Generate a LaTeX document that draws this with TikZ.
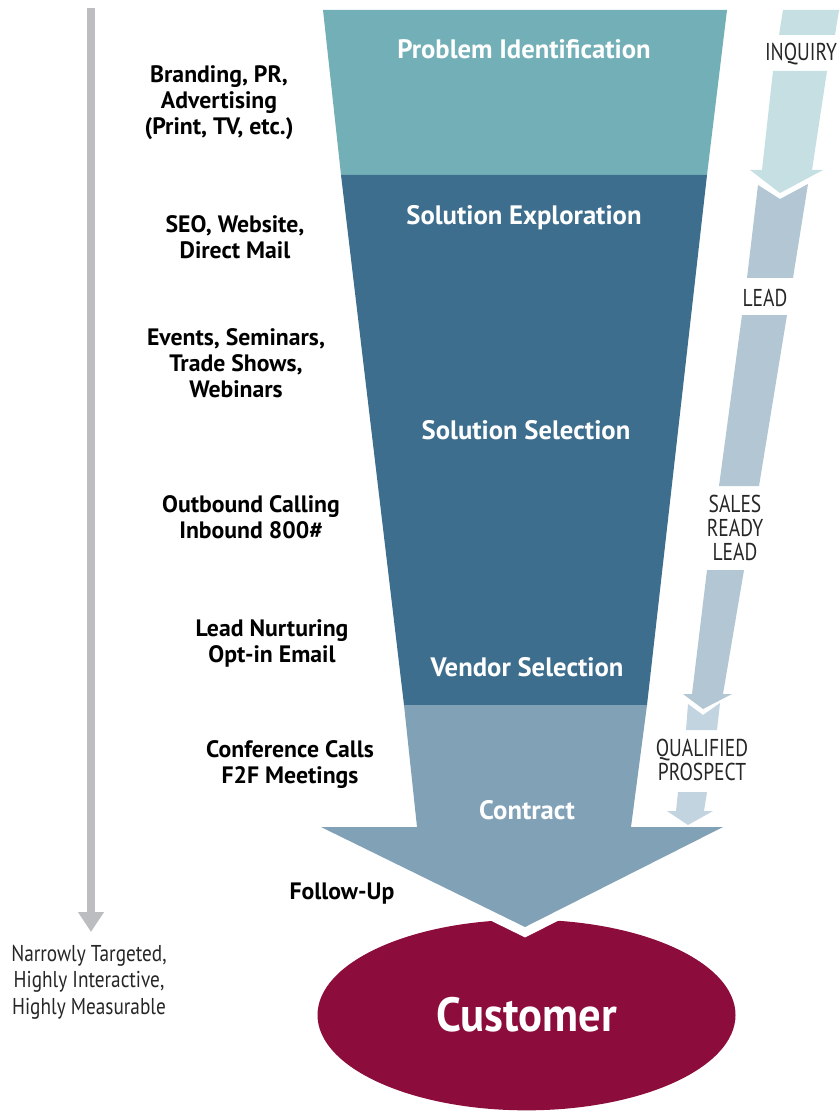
\documentclass[tikz,border=0pt]{standalone}
\usepackage{fontspec}
\setmainfont{PT Sans}
\newfontfamily\condfont[FakeStretch=0.8]{PT Sans}
\newfontfamily\narrfont[FakeStretch=0.84]{PT Sans}
\newfontfamily\custfont[FakeStretch=0.93]{PT Sans}
\usetikzlibrary{shapes.geometric,arrows.meta}
\definecolor{tealtop}{HTML}{73AFB6}
\definecolor{darkblue}{HTML}{3D6E8E}
\definecolor{contractc}{HTML}{80A1B6}
\definecolor{custred}{HTML}{8C0D3B}
\definecolor{grayline}{HTML}{BCBDC0}
\definecolor{arrlight}{HTML}{C5DFE3}
\definecolor{arrmid}{HTML}{B2C6D3}
\definecolor{arrpale}{HTML}{C2D4DF}
\tikzset{
  lbl/.style={font=\bfseries\fontsize{17.8}{19.5}\selectfont, align=center, text=black, inner sep=0pt},
  stage/.style={font=\bfseries\fontsize{20}{22}\selectfont, text=white, inner sep=0pt},
  rlbl/.style={font=\condfont\fontsize{18.3}{18}\selectfont, align=center, text=black!85, inner sep=0pt},
  nlbl/.style={font=\narrfont\fontsize{17.2}{20}\selectfont, align=center, text=black!85, inner sep=0pt}
}
\begin{document}
\begin{tikzpicture}[x=0.75pt,y=-0.75pt]
\useasboundingbox (0,0) rectangle (839,1112);

% gray arrow at left
\coordinate (gtop) at (91,8);
\coordinate (gbot) at (91,932);
\draw[grayline, line width=5.8pt, -{Triangle[width=18.5pt,length=15pt]}] (gtop) -- (gbot);

% customer ellipse
\node[ellipse, fill=custred, minimum width=313.5pt, minimum height=143pt, inner sep=0pt,
      font=\custfont\bfseries\fontsize{36}{38}\selectfont, text=white] (cust) at (526.5,1015) {Customer};

% funnel
\fill[tealtop] (323,10) -- (727,10) -- (707,175) -- (341,175) -- cycle;
\fill[darkblue] (341,175) -- (707,175) -- (647,705) -- (404,705) -- cycle;
\draw[white, line width=14pt, line join=miter] (321,827) -- (525,927) -- (723,827);
\fill[contractc] (404,705) -- (647,705) -- (631,827) -- (723,827) -- (525,927) -- (321,827) -- (417,827) -- cycle;

\node[stage] (s1) at (524,49) {Problem Identification};
\node[stage] (s2) at (524,218) {Solution Exploration};
\node[stage] (s3) at (526,430) {Solution Selection};
\node[stage] (s4) at (527,667) {Vendor Selection};
\node[stage] (s5) at (527,810) {Contract};

% right-hand progression arrows
\fill[arrlight] (783,10) -- (839,10) -- (835,35) -- (779,35) -- cycle;
\fill[arrlight] (773,71) -- (827,71) -- (812,170) -- (823,170) -- (780,193) -- (750,170) -- (762,170) -- cycle;
\fill[arrmid] (758,185) -- (780,199) -- (808,184) -- (793,278) -- (747,278) -- cycle;
\fill[arrmid] (742,315) -- (787,315) -- (759,486) -- (719,486) -- cycle;
\fill[arrmid] (707,570) -- (744,570) -- (723,694) -- (732,694) -- (703,709) -- (683,694) -- (692,694) -- cycle;
\fill[arrpale] (688,704) -- (703,715) -- (720,703) -- (717,730) -- (686,730) -- cycle;
\fill[arrpale] (678,792) -- (707,792) -- (704,811) -- (713,811) -- (688,825) -- (667,811) -- (676,811) -- cycle;

\node[rlbl] (inq) at (801,54) {INQUIRY};
\node[rlbl] (lead) at (765,298) {LEAD};
\node[rlbl] (srl) at (735,528) {SALES\\READY\\LEAD};
\node[rlbl] (qp) at (702,760) {QUALIFIED\\PROSPECT};

% left-hand labels
\node[lbl] (l1) at (219,103) {Branding, PR,\\Advertising\\(Print, TV, etc.)};
\node[lbl] (l2) at (235,237) {SEO, Website,\\Direct Mail};
\node[lbl] (l3) at (236,363) {Events, Seminars,\\Trade Shows,\\Webinars};
\node[lbl] (l4) at (251,517) {Outbound Calling\\Inbound 800\#};
\node[lbl] (l5) at (272,643) {Lead Nurturing\\Opt-in Email};
\node[lbl] (l6) at (290,765) {Conference Calls\\F2F Meetings};
\node[lbl] (l7) at (342,894) {Follow-Up};

\node[nlbl] (narrow) at (89,982) {Narrowly Targeted,\\Highly Interactive,\\Highly Measurable};
\end{tikzpicture}
\end{document}
